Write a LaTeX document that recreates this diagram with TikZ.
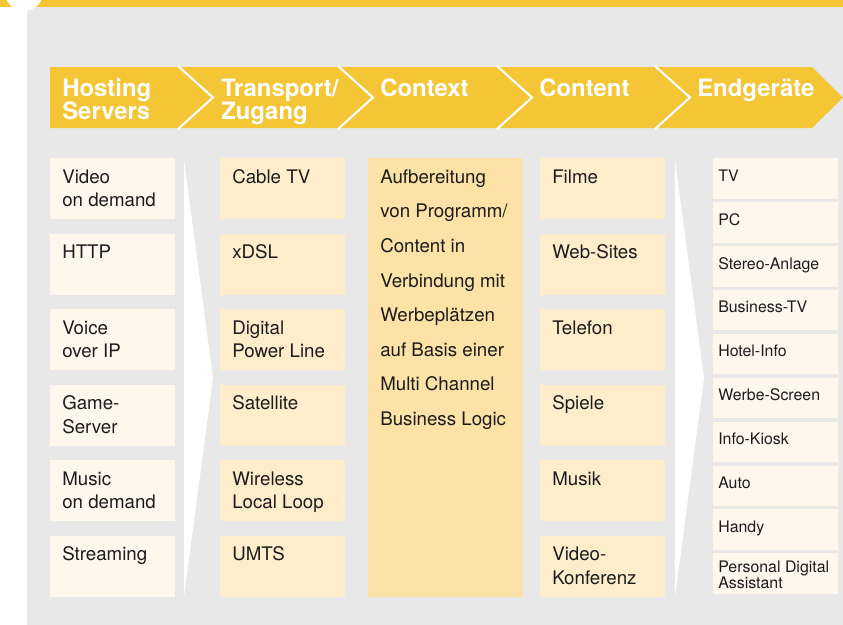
\documentclass[tikz,border=0pt]{standalone}
\usepackage{fontspec}
\setmainfont{TeX Gyre Heros}
\usetikzlibrary{positioning}
\definecolor{panelgray}{HTML}{E8E8E8}
\definecolor{bandyellow}{HTML}{F4C535}
\definecolor{creamfill}{HTML}{FEF8EC}
\definecolor{peachfill}{HTML}{FDEDCB}
\definecolor{contextfill}{HTML}{FCE2A6}
\definecolor{bodyink}{HTML}{1C1C1C}
% fixed first-line heights
\newcommand{\hdrstrut}{\rule{0pt}{0.5cm}}
\newcommand{\bodystrut}{\rule{0pt}{0.4cm}}
\newcommand{\smallstrut}{\rule{0pt}{0.35cm}}

\begin{document}
\begin{tikzpicture}[x=0.025cm, y=-0.025cm,
  hdrtxt/.style={text=white, font=\fontsize{17}{16.4}\selectfont\bfseries, align=left, anchor=north west, inner sep=0pt},
  bodytxt/.style={text=bodyink, font=\fontsize{13.3}{16.7}\selectfont, align=left, anchor=north west, inner sep=0pt},
  smalltxt/.style={text=bodyink, font=\fontsize{11.3}{11.4}\selectfont, align=left, anchor=north west, inner sep=0pt},
  bigbox/.style={fill=#1, draw=none, anchor=north west, minimum width=3.125cm, minimum height=1.525cm, inner sep=0pt},
  smallbox/.style={fill=creamfill, draw=none, anchor=north west, minimum width=3.125cm, minimum height=1.0125cm, inner sep=0pt},
  sepline/.style={white, line width=1.5pt}]
\useasboundingbox (0,0) rectangle (843,625);

% panel and cut-off title strip
\fill[panelgray] (27,6) rectangle (843,625);
\fill[bandyellow] (0,0) rectangle (843,6.5);
\fill[white] (24,-8) circle (0.475cm);

% header band
\fill[bandyellow] (50,67) -- (812,67) -- (843,97.5) -- (812,128) -- (50,128) -- cycle;
\foreach \x in {178,338,497,655}
  \draw[sepline] (\x,66) -- (\x+35,97.5) -- (\x,129);
\node[hdrtxt] (hosting) at (62,76) {\hdrstrut Hosting\\Servers};
\node[hdrtxt] (transport) at (221,76) {\hdrstrut Transport/\\Zugang};
\node[hdrtxt] (context) at (380,76) {\hdrstrut Context};
\node[hdrtxt] (content) at (539,76) {\hdrstrut Content};
\node[hdrtxt] (endgeraete) at (697,76) {\hdrstrut Endgeräte};

% white wedges
\fill[white] (184,160) -- (213,378) -- (184,597) -- cycle;
\fill[white] (675,160) -- (704,378) -- (675,597) -- cycle;

% Hosting Servers
\foreach \t [count=\i, evaluate=\i as \y using 158+75.5*(\i-1)] in
  {{Video\\on demand}, HTTP, {Voice\\over IP}, {Game-\\Server}, {Music\\on demand}, Streaming}{
  \node[bigbox=creamfill] (h\i) at (50,\y) {};
  \node[bodytxt] (ht\i) at ([xshift=0.3cm, yshift=-0.225cm]h\i.north west) {\bodystrut\t};
}

% Transport / Zugang
\foreach \t [count=\i, evaluate=\i as \y using 158+75.5*(\i-1)] in
  {Cable TV, xDSL, {Digital\\Power Line}, Satellite, {Wireless\\Local Loop}, UMTS}{
  \node[bigbox=peachfill] (z\i) at (220,\y) {};
  \node[bodytxt] (zt\i) at ([xshift=0.3cm, yshift=-0.225cm]z\i.north west) {\bodystrut\t};
}

% Context
\node[fill=contextfill, anchor=north west, minimum width=3.875cm, minimum height=10.975cm, inner sep=0pt] (ctx) at (368,158) {};
\node[bodytxt, font=\fontsize{13.3}{24.6}\selectfont] (ctxt) at ([xshift=0.3cm, yshift=-0.225cm]ctx.north west)
  {\bodystrut Aufbereitung\\von Programm/\\Content in\\Verbindung mit\\Werbeplätzen\\auf Basis einer\\Multi Channel\\Business Logic};

% Content
\foreach \t [count=\i, evaluate=\i as \y using 158+75.5*(\i-1)] in
  {Filme, Web-Sites, Telefon, Spiele, Musik, {Video-\\Konferenz}}{
  \node[bigbox=peachfill] (c\i) at (540,\y) {};
  \node[bodytxt] (ct\i) at ([xshift=0.3cm, yshift=-0.225cm]c\i.north west) {\bodystrut\t};
}

% Endgeraete
\foreach \t [count=\i, evaluate=\i as \y using 158+43.9*(\i-1)] in
  {TV, PC, Stereo-Anlage, Business-TV, Hotel-Info, Werbe-Screen, Info-Kiosk, Auto, Handy}{
  \node[smallbox] (e\i) at (713,\y) {};
  \node[smalltxt] (et\i) at ([xshift=0.125cm, yshift=-0.225cm]e\i.north west) {\smallstrut\t};
}
\node[smallbox] (e10) at (713,553) {};
\node[smalltxt] (et10) at ([xshift=0.125cm, yshift=-0.125cm]e10.north west) {\smallstrut Personal Digital\\Assistant};
\end{tikzpicture}
\end{document}
